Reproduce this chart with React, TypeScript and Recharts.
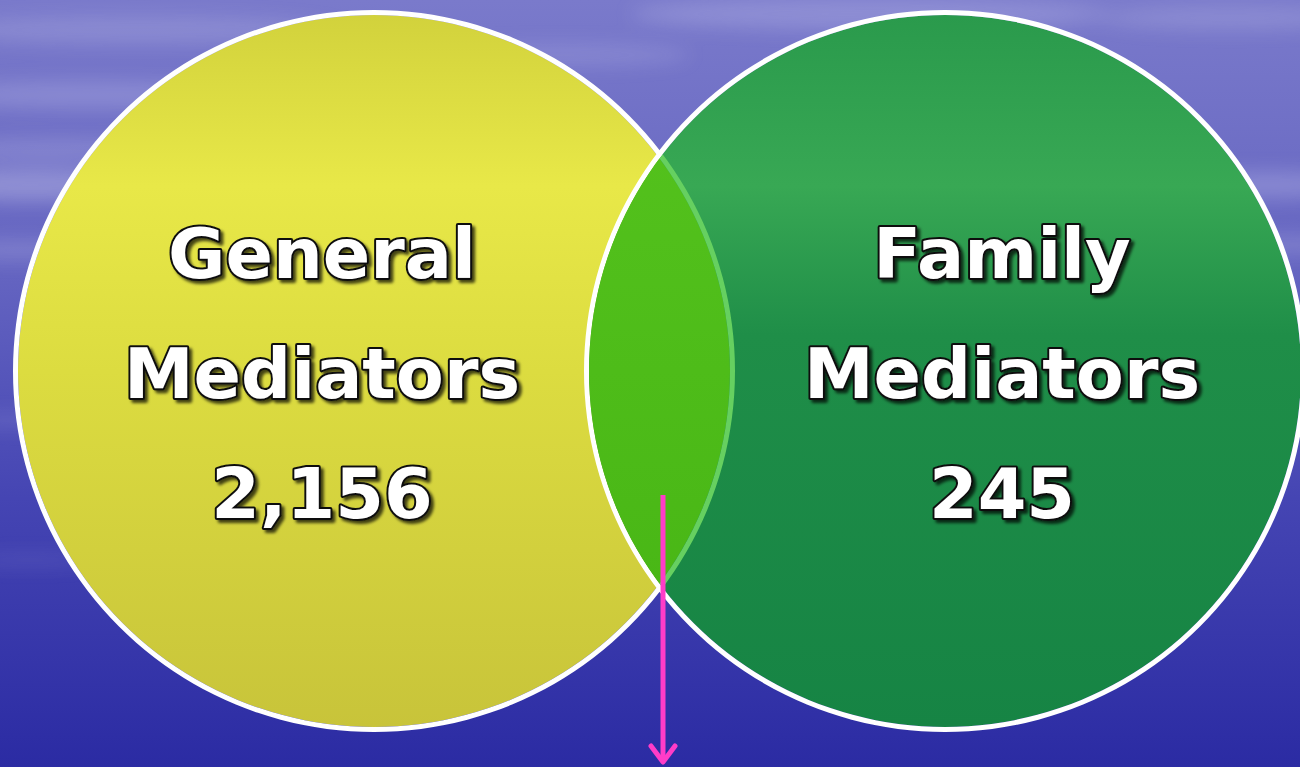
import React from 'react';
import { PieChart, Pie, Cell } from 'recharts';

const W = 1300;
const H = 767;

// sets shown in the diagram
const setKeys = ['general', 'family'];
const setTitles = [['General', 'Mediators'], ['Family', 'Mediators']];
const setCounts = [2156, 245];
const overlapNames = ['General & Family'];
const overlapShare = [1]; // lens has no printed number, one full slice

// layout
const CY = 371;
const CX = [374, 945];
const R = 356;
const RING = 5;
const TEXT_SHIFT = [-52, 57];

const FILLS = ['url(#gYellow)', 'url(#gGreen)'];

const generalData = [{ name: setKeys[0], value: setCounts[0] }];
const familyData = [{ name: setKeys[1], value: setCounts[1] }];
const overlapData = overlapNames.map((n, i) => ({ name: n, value: overlapShare[i] }));

const makeLabel = (idx: number) => (props: any) => {
  const { cx, cy } = props;
  const x = cx + TEXT_SHIFT[idx];
  const lines = [...setTitles[idx], setCounts[idx].toLocaleString('en-US')];
  return (
    <g filter="url(#txtShadow)">
      {lines.map((t, i) => (
        <text
          key={i}
          x={x}
          y={cy - 93 + i * 120}
          textAnchor="middle"
          fontFamily="'DejaVu Sans', Verdana, sans-serif"
          fontWeight="bold"
          fontSize={70}
          fill="#ffffff"
          stroke="#111111"
          strokeWidth={4}
          strokeLinejoin="round"
          paintOrder="stroke"
        >
          {t}
        </text>
      ))}
    </g>
  );
};

// soft cloud streaks in the backdrop
const streaks = [
  { cx: 90, cy: 95, rx: 170, ry: 14, o: 0.22 },
  { cx: 60, cy: 150, rx: 140, ry: 12, o: 0.2 },
  { cx: 30, cy: 185, rx: 120, ry: 16, o: 0.32 },
  { cx: 20, cy: 250, rx: 90, ry: 10, o: 0.2 },
  { cx: 140, cy: 30, rx: 200, ry: 14, o: 0.18 },
  { cx: 870, cy: 14, rx: 240, ry: 16, o: 0.22 },
  { cx: 1230, cy: 18, rx: 130, ry: 12, o: 0.18 },
  { cx: 1270, cy: 185, rx: 90, ry: 14, o: 0.25 },
  { cx: 1280, cy: 245, rx: 70, ry: 10, o: 0.2 },
  { cx: 560, cy: 55, rx: 130, ry: 12, o: 0.15 },
  { cx: 30, cy: 420, rx: 80, ry: 8, o: 0.12 },
  { cx: 30, cy: 560, rx: 70, ry: 7, o: 0.1 },
];

export default function App() {
  return (
    <div style={{ position: 'absolute', left: 0, top: 0, width: W, height: H }}>
      <PieChart width={W} height={H} margin={{ top: 0, right: 0, bottom: 0, left: 0 }}>
        <defs>
          <linearGradient id="bg" x1="0" y1="0" x2="0" y2="1">
            <stop offset="0%" stopColor="#7a7acb" />
            <stop offset="35%" stopColor="#6565c1" />
            <stop offset="65%" stopColor="#4545b3" />
            <stop offset="100%" stopColor="#2b2ba3" />
          </linearGradient>
          <linearGradient id="gYellow" x1="0" y1="0" x2="0" y2="1">
            <stop offset="0%" stopColor="#d2d23c" />
            <stop offset="24%" stopColor="#e8e848" />
            <stop offset="50%" stopColor="#dcdc40" />
            <stop offset="100%" stopColor="#c8c43a" />
          </linearGradient>
          <linearGradient id="gGreen" x1="0" y1="0" x2="0" y2="1">
            <stop offset="0%" stopColor="#2a9a4c" />
            <stop offset="24%" stopColor="#38a854" />
            <stop offset="45%" stopColor="#1f8e48" />
            <stop offset="100%" stopColor="#168444" />
          </linearGradient>
          <linearGradient id="gLens" x1="0" y1="0" x2="0" y2="1">
            <stop offset="0%" stopColor="#56c41e" />
            <stop offset="100%" stopColor="#46b414" />
          </linearGradient>
          <clipPath id="clipLeft">
            <circle cx={CX[0]} cy={CY} r={R} />
          </clipPath>
          <clipPath id="clipRight">
            <circle cx={CX[1]} cy={CY} r={R} />
          </clipPath>
          <filter id="txtShadow" x="-10%" y="-10%" width="130%" height="130%">
            <feDropShadow dx="3" dy="3" stdDeviation="1.5" floodColor="#000" floodOpacity="0.7" />
          </filter>
          <filter id="blur" x="-50%" y="-50%" width="200%" height="200%">
            <feGaussianBlur stdDeviation="9" />
          </filter>
        </defs>
        <rect x={0} y={0} width={W} height={H} fill="url(#bg)" />
        <g filter="url(#blur)">
          {streaks.map((s, i) => (
            <ellipse key={i} cx={s.cx} cy={s.cy} rx={s.rx} ry={s.ry} fill="#dcdcf6" opacity={s.o} />
          ))}
        </g>

        {/* left circle */}
        <Pie data={generalData} dataKey="value" cx={CX[0]} cy={CY} outerRadius={R} startAngle={90} endAngle={-270}
          stroke="none" isAnimationActive={false} labelLine={false}>
          <Cell fill={FILLS[0]} />
        </Pie>
        <Pie data={generalData} dataKey="value" cx={CX[0]} cy={CY} innerRadius={R} outerRadius={R + RING}
          startAngle={90} endAngle={-270} fill="#ffffff" stroke="none" isAnimationActive={false} />

        {/* right circle */}
        <Pie data={familyData} dataKey="value" cx={CX[1]} cy={CY} outerRadius={R} startAngle={90} endAngle={-270}
          stroke="none" isAnimationActive={false} labelLine={false}>
          <Cell fill={FILLS[1]} />
        </Pie>
        <Pie data={familyData} dataKey="value" cx={CX[1]} cy={CY} innerRadius={R} outerRadius={R + RING}
          startAngle={90} endAngle={-270} fill="#ffffff" stroke="none" isAnimationActive={false} />

        {/* overlap lens */}
        <Pie data={overlapData} dataKey="value" cx={CX[1]} cy={CY} outerRadius={R} startAngle={90} endAngle={-270}
          stroke="none" isAnimationActive={false}>
          <Cell fill="url(#gLens)" clipPath="url(#clipLeft)" />
        </Pie>
        <Pie data={generalData} dataKey="value" cx={CX[0]} cy={CY} innerRadius={R} outerRadius={R + RING}
          startAngle={90} endAngle={-270} stroke="none" isAnimationActive={false}>
          <Cell fill="#66d060" clipPath="url(#clipRight)" />
        </Pie>

        {/* labels on top */}
        <Pie data={generalData} dataKey="value" cx={CX[0]} cy={CY} outerRadius={R} fill="none" stroke="none"
          isAnimationActive={false} labelLine={false} label={makeLabel(0)} />
        <Pie data={familyData} dataKey="value" cx={CX[1]} cy={CY} outerRadius={R} fill="none" stroke="none"
          isAnimationActive={false} labelLine={false} label={makeLabel(1)} />
      </PieChart>
      <svg width={W} height={H} style={{ position: 'absolute', left: 0, top: 0, pointerEvents: 'none' }}>
        <line x1={663} y1={495} x2={663} y2={762} stroke="#ff3cc8" strokeWidth={5} />
        <polyline points="651,746 663,762 675,746" fill="none" stroke="#ff3cc8" strokeWidth={5}
          strokeLinecap="round" strokeLinejoin="round" />
      </svg>
    </div>
  );
}
